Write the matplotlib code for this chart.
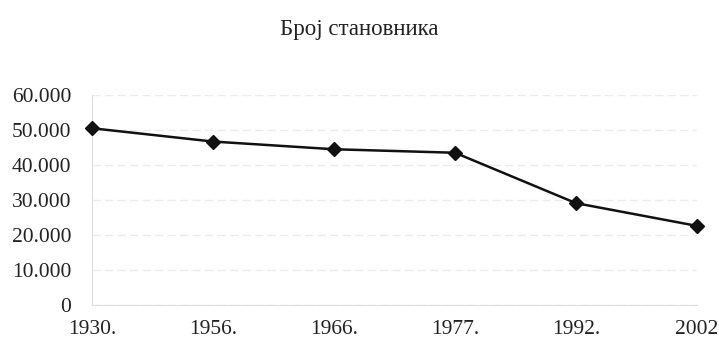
import numpy as np
import matplotlib.pyplot as plt

# Број становника по пописима
years = ["1930.", "1956.", "1966.", "1977.", "1992.", "2002"]
population = [50500, 46700, 44500, 43500, 29100, 22600]
yticks = [0, 10000, 20000, 30000, 40000, 50000, 60000]
ytick_labels = ["0", "10.000", "20.000", "30.000", "40.000", "50.000", "60.000"]

plt.rcParams['font.family'] = ['Liberation Serif', 'DejaVu Serif']

fig = plt.figure(figsize=(7.19, 3.45), dpi=100)
ax = fig.add_axes([92/719, 1-305/345, (697-92)/719, (305-95)/345])

x = np.arange(len(years))
ax.plot(x, population, color="#111111", lw=1.8, marker="D", ms=7,
        markerfacecolor="#111111", markeredgecolor="#111111", clip_on=False, zorder=3)

ax.set_xlim(0, len(years)-1)
ax.set_ylim(0, 60000)
ax.set_xticks(x)
ax.set_xticklabels(years)
ax.set_yticks(yticks)
ax.set_yticklabels(ytick_labels)
ax.tick_params(length=0, labelsize=15.5, colors="#222222", pad=15)
ax.tick_params(axis="x", pad=11)

for s in ["top", "right"]:
    ax.spines[s].set_visible(False)
ax.spines["left"].set_color("#dddddd")
ax.spines["bottom"].set_color("#dddddd")
ax.yaxis.grid(True, color="#ececec", lw=1, ls=(0, (6, 3)))
ax.set_axisbelow(True)

fig.text(0.5, 1-29/345, "Број становника", ha="center", va="center",
         fontsize=16.5, color="#222222")

fig.savefig("out.png", dpi=100)
